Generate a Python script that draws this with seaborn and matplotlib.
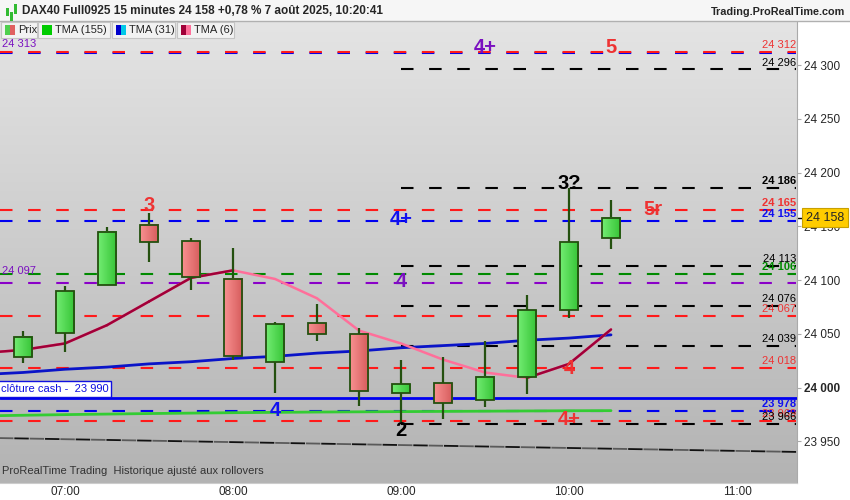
import matplotlib
matplotlib.use('Agg')
import matplotlib.pyplot as plt
import matplotlib.transforms as mtransforms
from matplotlib.colors import LinearSegmentedColormap
from matplotlib.patches import Rectangle
import numpy as np
import pandas as pd
import seaborn as sns

# bars, 15 minutes
candle_times = ["06:45", "07:00", "07:15", "07:30", "07:45", "08:00", "08:15", "08:30",
                "08:45", "09:00", "09:15", "09:30", "09:45", "10:00", "10:15"]
opens = [24028, 24051, 24095, 24151, 24136, 24101, 24024, 24060,
         24050, 23995, 24004, 23988, 24010, 24072, 24139]
highs = [24053, 24094, 24149, 24162, 24139, 24130, 24061, 24078,
         24055, 24026, 24028, 24043, 24086, 24186, 24174]
lows = [24023, 24033, 24095, 24117, 24091, 24026, 23995, 24043,
        23983, 23968, 23971, 23982, 23994, 24065, 24129]
closes = [24047, 24090, 24145, 24135, 24103, 24029, 24059, 24050,
          23997, 24003, 23986, 24010, 24072, 24135, 24158]

# moving averages (first point is the 06:30 bar, off the left edge)
ma_times = ["06:30"] + candle_times
tma6 = [24032, 24035, 24041, 24058, 24080, 24102, 24109, 24101,
        24083, 24053, 24041, 24026, 24014, 24009, 24022, 24054]
tma31 = [24012, 24014, 24017, 24019, 24022, 24024, 24027, 24029,
         24032, 24034, 24037, 24039, 24041, 24044, 24046, 24049]
tma155 = [23973.6, 23974.2, 23974.8, 23975.3, 23975.8, 23976.2, 23976.6, 23976.9,
          23977.2, 23977.4, 23977.6, 23977.8, 23978.0, 23978.2, 23978.4, 23978.5]

trend_times = ["06:30", "11:30"]
trend_vals = [23953.3, 23939.7]

# horizontal levels
level_vals = [24311, 24312, 24296, 24186, 24165, 24155, 24113, 24106,
              24097, 24076, 24067, 24039, 24018, 23978, 23969, 23966]
level_cols = ["blue", "red", "black", "black", "red", "blue", "black", "green",
              "purple", "black", "red", "black", "red", "blue", "red", "black"]
level_start = ["06:30", "06:30", "09:00", "09:00", "06:30", "06:30", "09:00", "06:30",
               "06:30", "09:00", "06:30", "09:00", "06:30", "06:30", "06:30", "09:00"]
level_labels = ["", "24 312", "24 296", "24 186", "24 165", "24 155", "24 113", "24 106",
                "", "24 076", "24 067", "24 039", "24 018", "23 978", "23 969", "23 966"]
level_bold = [False, False, False, True, True, True, False, True,
              False, False, False, False, False, True, False, False]
cash_close = 23990

# wave labels
wave_text = ["4+", "5", "3", "4+", "4", "3?", "5r", "4", "4", "2", "4+"]
wave_times = ["09:30", "10:15", "07:30", "09:00", "09:00", "10:00", "10:30",
              "10:00", "08:15", "09:00", "10:00"]
wave_vals = [24316, 24316, 24169, 24156, 24099, 24190, 24166, 24018, 23979, 23960, 23970]
wave_cols = ["purple", "red", "red", "blue", "purple", "black", "red", "red", "blue",
             "black", "red"]

yticks = [23950, 24000, 24050, 24100, 24150, 24200, 24250, 24300]
xtick_times = ["07:00", "08:00", "09:00", "10:00", "11:00"]

palette = {"red": "#ff1a1a", "blue": "#0000f0", "black": "#000000",
           "green": "#008a00", "purple": "#8a00c8"}
text_pal = {"red": "#ee3333", "blue": "#1010f0", "black": "#000000",
            "green": "#008a00", "purple": "#7a10c0"}


def hours(t):
    h, m = t.split(":")
    return int(h) + int(m) / 60.0


def fmt(v):
    return "{:,}".format(int(v)).replace(",", " ")


sns.set_style("white")
plt.rcParams['font.family'] = ['Liberation Sans', 'DejaVu Sans']

fig = plt.figure(figsize=(8.5, 5), dpi=100)
fig.patch.set_facecolor("white")
ax = fig.add_axes([0, 0.034, 797 / 850, 0.956 - 0.034])

x0, x1 = 6.6133, 11.357
ax.set_xlim(x0, x1)
ax.set_ylim(23911.2, 24340)

# background gradient
bg = LinearSegmentedColormap.from_list("bg", ["#b3b3b3", "#e4e4e4"])
ax.imshow(np.linspace(0, 1, 256).reshape(-1, 1), cmap=bg, origin="lower",
          extent=[0, 1, 0, 1], transform=ax.transAxes, aspect="auto", zorder=0)

dash = (0, (6, 7.5))
right_x = x1 - 0.005

for v, c, s, lab, b in zip(level_vals, level_cols, level_start, level_labels, level_bold):
    ax.hlines(v, max(hours(s), x0), right_x, colors=palette[c], lw=1.5,
              linestyles=dash, zorder=2)
    if lab:
        ax.text(right_x, v + 1.6, lab, color=text_pal[c], fontsize=8,
                fontweight="bold" if b else "normal", ha="right", va="bottom", zorder=6)

ax.text(x0 + 0.01, 24097 + 7, "24 097", color=text_pal["purple"], fontsize=8,
        ha="left", va="bottom", zorder=6)
ax.text(x0 + 0.01, 24313 + 6.5, "24 313", color=text_pal["purple"], fontsize=8,
        ha="left", va="center", zorder=6)

# close cash
ax.axhline(cash_close, color="#0000f0", lw=2, zorder=3)
ax.text(x0 + 0.005, cash_close + 8.5, "clôture cash -  " + fmt(cash_close), color="#1010e0",
        fontsize=8, ha="left", va="center", zorder=7,
        bbox=dict(boxstyle="square,pad=0.25", fc="white", ec="#1010e0", lw=1))

# trend line
tdf = pd.DataFrame({"t": [hours(t) for t in trend_times], "v": trend_vals})
sns.lineplot(data=tdf, x="t", y="v", ax=ax, color="#5a5a5a", lw=1.3,
             linestyle=(0, (8, 9)), zorder=2)
sns.lineplot(data=tdf, x="t", y="v", ax=ax, color="#111111", lw=1.3,
             linestyle=(8.5, (8, 9)), zorder=2)

ma = pd.DataFrame({"t": [hours(t) for t in ma_times], "tma6": tma6,
                   "tma31": tma31, "tma155": tma155})
sns.lineplot(data=ma, x="t", y="tma155", ax=ax, color="#33cc33", lw=2, zorder=3)
sns.lineplot(data=ma, x="t", y="tma31", ax=ax, color="#0a14c8", lw=2, zorder=3)
sns.lineplot(data=ma, x="t", y="tma6", ax=ax, color="#ff6f9a", lw=1.8, zorder=3)
for i in range(len(tma6) - 1):
    if tma6[i + 1] >= tma6[i]:
        ax.plot(ma["t"].iloc[i:i + 2], ma["tma6"].iloc[i:i + 2], color="#a00038",
                lw=1.8, zorder=3.5, solid_capstyle="round")

# candles
up_cm = LinearSegmentedColormap.from_list("up", ["#72ec72", "#36c436"])
dn_cm = LinearSegmentedColormap.from_list("dn", ["#f89090", "#d65c5c"])
grad = np.linspace(0, 1, 32).reshape(1, -1)
w = 18 / 168.0
edge = "#24500f"
for t, o, h, l, c in zip(candle_times, opens, highs, lows, closes):
    x = hours(t)
    ax.vlines(x, l, h, color=edge, lw=1.6, zorder=4)
    lo, hi = min(o, c), max(o, c)
    ax.imshow(grad, cmap=up_cm if c >= o else dn_cm, aspect="auto",
              extent=[x - w / 2, x + w / 2, lo, hi], zorder=5)
    ax.add_patch(Rectangle((x - w / 2, lo), w, hi - lo, fc="none", ec=edge, lw=1.3, zorder=5.5))

ax.set_xlim(x0, x1)
ax.set_ylim(23911.2, 24340)

for s, t, v, c in zip(wave_text, wave_times, wave_vals, wave_cols):
    ax.text(hours(t), v, s, color=text_pal[c], fontsize=14.5, fontweight="bold",
            ha="center", va="center", zorder=8)

ax.text(x0 + 0.01, 23918, "ProRealTime Trading  Historique ajusté aux rollovers",
        fontsize=8, color="#333333", ha="left", va="bottom", zorder=6)

# axes
ax.yaxis.tick_right()
ax.set_yticks(yticks)
ax.set_yticklabels([fmt(v) for v in yticks], fontsize=8.5)
for lab in ax.get_yticklabels():
    if lab.get_text() == "24 000":
        lab.set_fontweight("bold")
ax.set_xticks([hours(t) for t in xtick_times])
ax.set_xticklabels(xtick_times, fontsize=8.5)
ax.tick_params(axis="y", length=3, color="#aaaaaa", pad=2)
ax.tick_params(axis="x", length=2, color="#aaaaaa", pad=0.5)
ax.set_xlabel("")
ax.set_ylabel("")
for sp in ["top", "left"]:
    ax.spines[sp].set_visible(False)
ax.spines["right"].set_color("#aaaaaa")
ax.spines["bottom"].set_color("#cccccc")

trans = mtransforms.blended_transform_factory(ax.transAxes, ax.transData)
ax.text(1.011, closes[-1], fmt(closes[-1]), transform=trans, fontsize=9, ha="left",
        va="center", zorder=10, clip_on=False,
        bbox=dict(boxstyle="square,pad=0.3", fc="#ffcc00", ec="#c8a000", lw=0.8))
ax.plot([1.0, 1.01], [closes[-1], closes[-1]], transform=trans, color="black", lw=1,
        clip_on=False)

# header bar
fig.patches.append(Rectangle((0, 1 - 21 / 500), 1, 21 / 500, transform=fig.transFigure,
                             fc="#f6f6f6", ec="none", zorder=1))
fig.lines.append(plt.Line2D([0, 1], [1 - 21 / 500] * 2, transform=fig.transFigure,
                            color="#b0b0b0", lw=1))
fig.text(22 / 850, 1 - 11 / 500, "DAX40 Full0925 15 minutes 24 158 +0,78 % 7 août 2025, 10:20:41",
         fontsize=8.5, fontweight="bold", ha="left", va="center")
fig.text(845 / 850, 1 - 12 / 500, "Trading.ProRealTime.com", fontsize=7.8,
         fontweight="bold", ha="right", va="center")
for xi, yi, hi_ in [(6, 8, 8), (10, 12, 9), (14, 4, 10)]:
    fig.patches.append(Rectangle((xi / 850, 1 - (yi + hi_) / 500), 3 / 850, hi_ / 500,
                                 transform=fig.transFigure, fc="#33bb33", ec="none", zorder=2))

# legend boxes
boxes = [(1, 37, "Prix", ["#4fcf4f", "#e06060"]),
         (38, 110, "TMA (155)", ["#00cc00", "#00cc00"]),
         (112, 175, "TMA (31)", ["#0000cc", "#00c8e8"]),
         (177, 234, "TMA (6)", ["#a00038", "#ff6f9a"])]
for bx0, bx1, name, cols in boxes:
    fig.patches.append(Rectangle((bx0 / 850, 1 - 38 / 500), (bx1 - bx0) / 850, 16 / 500,
                                 transform=fig.transFigure, fc="#f2f2f2", ec="#c4c4c4",
                                 lw=0.8, zorder=3))
    fig.patches.append(Rectangle(((bx0 + 4) / 850, 1 - 35 / 500), 5 / 850, 10 / 500,
                                 transform=fig.transFigure, fc=cols[0], ec="none", zorder=4))
    fig.patches.append(Rectangle(((bx0 + 9) / 850, 1 - 35 / 500), 5 / 850, 10 / 500,
                                 transform=fig.transFigure, fc=cols[1], ec="none", zorder=4))
    fig.text((bx0 + 17) / 850, 1 - 30 / 500, name, fontsize=8, ha="left", va="center",
             zorder=5)

fig.savefig("out.png", dpi=100)
